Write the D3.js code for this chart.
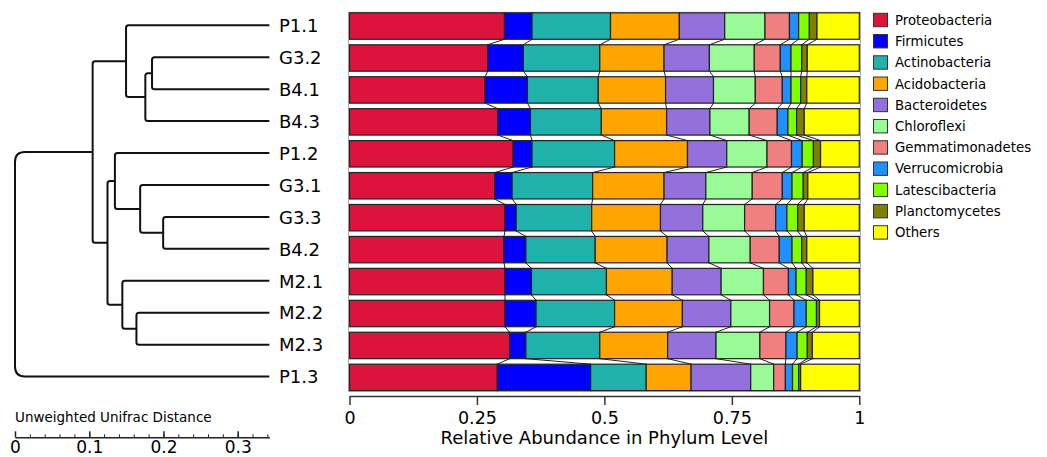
<!DOCTYPE html>
<html>
<head>
<meta charset="utf-8">
<script src="https://cdn.jsdelivr.net/npm/d3@7.9.0/dist/d3.min.js"></script>
<style>
  body { margin: 0; background: #fff; }
  svg { display: block; font-family: "DejaVu Sans", sans-serif; }
</style>
</head>
<body>
<svg id="chart" width="1047" height="457"></svg>
<script>
const samples = ['P1.1', 'G3.2', 'B4.1', 'B4.3', 'P1.2', 'G3.1', 'G3.3', 'B4.2', 'M2.1', 'M2.2', 'M2.3', 'P1.3'];

const phyla = ['Proteobacteria', 'Firmicutes', 'Actinobacteria', 'Acidobacteria', 'Bacteroidetes',
  'Chloroflexi', 'Gemmatimonadetes', 'Verrucomicrobia', 'Latescibacteria', 'Planctomycetes', 'Others'];

const phylumColors = ['#DC143C', '#0000FF', '#20B2AA', '#FFA500', '#9370DB',
  '#98FB98', '#F08080', '#1E90FF', '#7FFF00', '#808000', '#FFFF00'];

// relative abundance per phylum, one value per sample (same order as samples)
const proteobacteria   = [0.304, 0.271, 0.266, 0.291, 0.321, 0.285, 0.305, 0.303, 0.305, 0.305, 0.314, 0.290];
const firmicutes       = [0.054, 0.070, 0.083, 0.064, 0.037, 0.034, 0.022, 0.043, 0.052, 0.061, 0.032, 0.183];
const actinobacteria   = [0.154, 0.150, 0.139, 0.139, 0.162, 0.158, 0.148, 0.136, 0.147, 0.154, 0.145, 0.109];
const acidobacteria    = [0.135, 0.126, 0.132, 0.128, 0.143, 0.140, 0.135, 0.141, 0.129, 0.133, 0.133, 0.088];
const bacteroidetes    = [0.089, 0.089, 0.094, 0.085, 0.077, 0.082, 0.083, 0.082, 0.096, 0.095, 0.095, 0.117];
const chloroflexi      = [0.079, 0.088, 0.082, 0.077, 0.079, 0.091, 0.082, 0.081, 0.083, 0.076, 0.086, 0.045];
const gemmatimonadetes = [0.048, 0.051, 0.053, 0.055, 0.048, 0.059, 0.061, 0.057, 0.049, 0.048, 0.051, 0.023];
const verrucomicrobia  = [0.018, 0.021, 0.017, 0.021, 0.021, 0.019, 0.022, 0.025, 0.015, 0.024, 0.022, 0.014];
const latescibacteria  = [0.021, 0.021, 0.019, 0.017, 0.022, 0.022, 0.021, 0.019, 0.020, 0.020, 0.020, 0.012];
const planctomycetes   = [0.015, 0.011, 0.012, 0.015, 0.014, 0.009, 0.013, 0.010, 0.013, 0.006, 0.010, 0.004];
const others           = [0.083, 0.102, 0.103, 0.108, 0.076, 0.101, 0.108, 0.103, 0.091, 0.078, 0.092, 0.115];

const series = [proteobacteria, firmicutes, actinobacteria, acidobacteria, bacteroidetes,
  chloroflexi, gemmatimonadetes, verrucomicrobia, latescibacteria, planctomycetes, others];

// hierarchical clustering merges: [child, child, height]; numbers refer to earlier merges
const merges = [
  ['G3.2', 'B4.1', 0.158],
  ['G3.3', 'B4.2', 0.143],
  [0, 'B4.3', 0.167],
  ['G3.1', 1, 0.174],
  ['M2.2', 'M2.3', 0.179],
  ['P1.1', 2, 0.193],
  ['M2.1', 4, 0.198],
  ['P1.2', 3, 0.208],
  [7, 6, 0.218],
  [5, 8, 0.238],
  [9, 'P1.3', 0.3426],
];

const barTicks = [0, 0.25, 0.5, 0.75, 1];
const distTicks = [0, 0.1, 0.2, 0.3];

const svg = d3.select('#chart');

const x = d3.scaleLinear().domain([0, 1]).range([349.5, 859.3]);
const y = d3.scaleBand().domain(samples).range([12.85, 390.6]).paddingInner(0.173).paddingOuter(0);

// stacked rows
const rows = samples.map((s, i) => {
  let acc = 0;
  return series.map((vals, k) => {
    const seg = { sample: s, k, x0: acc, x1: acc + vals[i] };
    acc += vals[i];
    return seg;
  });
});

// frame
svg.append('rect')
  .attr('x', 348.5).attr('y', 12.3)
  .attr('width', 512).attr('height', 379)
  .attr('fill', 'none').attr('stroke', '#aaa').attr('stroke-width', 1);

// connectors between consecutive bars
const links = svg.append('g').attr('fill', 'none').attr('stroke', '#222').attr('stroke-width', 1);
for (let i = 0; i < samples.length - 1; i++) {
  for (let k = 0; k < phyla.length - 1; k++) {
    links.append('line')
      .attr('x1', x(rows[i][k].x1)).attr('y1', y(samples[i]) + y.bandwidth())
      .attr('x2', x(rows[i + 1][k].x1)).attr('y2', y(samples[i + 1]));
  }
}

svg.append('g').selectAll('g')
  .data(rows)
  .join('g')
  .selectAll('rect')
  .data(d => d)
  .join('rect')
  .attr('x', d => x(d.x0))
  .attr('y', d => y(d.sample))
  .attr('width', d => Math.max(0, x(d.x1) - x(d.x0)))
  .attr('height', y.bandwidth())
  .attr('fill', d => phylumColors[d.k])
  .attr('stroke', '#222')
  .attr('stroke-width', 1.2);

// bar axis
const xAxis = svg.append('g')
  .attr('transform', 'translate(0,396)')
  .call(d3.axisBottom(x).tickValues(barTicks).tickFormat(d3.format('~g')).tickSize(9).tickSizeOuter(0).tickPadding(7));
xAxis.selectAll('path, line').attr('stroke', '#333').attr('stroke-width', 1.5);
xAxis.selectAll('text').attr('font-size', 17.5).attr('fill', '#000').attr('font-family', 'DejaVu Sans');

svg.append('text')
  .attr('x', (x(0) + x(1)) / 2).attr('y', 444)
  .attr('text-anchor', 'middle').attr('font-size', 18)
  .text('Relative Abundance in Phylum Level');

// sample labels
svg.append('g').selectAll('text')
  .data(samples)
  .join('text')
  .attr('x', 279)
  .attr('y', d => y(d) + y.bandwidth() / 2 - 0.5)
  .attr('dy', '0.36em')
  .attr('font-size', 18)
  .text(d => d);

// dendrogram
const rootH = merges[merges.length - 1][2];
const xd = d3.scaleLinear().domain([rootH, 0]).range([15, 269.3]);
const nodes = [];
function pos(c) {
  if (typeof c === 'number') return nodes[c];
  return { x: xd(0), y: y(c) + y.bandwidth() / 2 - 0.8 };
}
const tree = svg.append('g').attr('fill', 'none').attr('stroke', '#111').attr('stroke-width', 2);
merges.forEach(([a, b, h], i) => {
  let pa = pos(a), pb = pos(b);
  if (pa.y > pb.y) [pa, pb] = [pb, pa];
  const nx = xd(h);
  const r = i === merges.length - 1 ? 10 : 2.5;
  nodes.push({ x: nx, y: (pa.y + pb.y) / 2 });
  const p = d3.path();
  p.moveTo(pa.x, pa.y);
  p.lineTo(nx + r, pa.y);
  p.quadraticCurveTo(nx, pa.y, nx, pa.y + r);
  p.lineTo(nx, pb.y - r);
  p.quadraticCurveTo(nx, pb.y, nx + r, pb.y);
  p.lineTo(pb.x, pb.y);
  tree.append('path').attr('d', p.toString());
});

// distance scale bar
const xs = d3.scaleLinear().domain([0, rootH]).range([15, 269.3]);
const minor = svg.append('g').attr('transform', 'translate(0,437.3)')
  .call(d3.axisBottom(xs).tickValues(d3.range(0, 0.3401, 0.02)).tickSize(-3).tickSizeOuter(0).tickFormat(''));
minor.select('.domain').remove();
minor.selectAll('line').attr('stroke', '#222').attr('stroke-width', 1);
const major = svg.append('g').attr('transform', 'translate(0,437.3)')
  .call(d3.axisBottom(xs).tickValues(distTicks).tickSize(-6).tickSizeOuter(0).tickPadding(4).tickFormat(d3.format('~g')));
major.selectAll('path, line').attr('stroke', '#222').attr('stroke-width', 1.5);
major.selectAll('text').attr('font-size', 17).attr('fill', '#000').attr('font-family', 'DejaVu Sans');

svg.append('text')
  .attr('x', 15).attr('y', 421.7)
  .attr('font-size', 13.5)
  .text('Unweighted Unifrac Distance');

// legend
const legend = svg.append('g').selectAll('g')
  .data(phyla)
  .join('g')
  .attr('transform', (d, i) => `translate(873.5,${13.3 + i * 21.24})`);
legend.append('rect')
  .attr('width', 14).attr('height', 13.4)
  .attr('fill', (d, i) => phylumColors[i])
  .attr('stroke', '#333').attr('stroke-width', 1);
legend.append('text')
  .attr('x', 21.5).attr('y', 6.7).attr('dy', '0.36em')
  .attr('font-size', 13.3)
  .text(d => d);
</script>
</body>
</html>
